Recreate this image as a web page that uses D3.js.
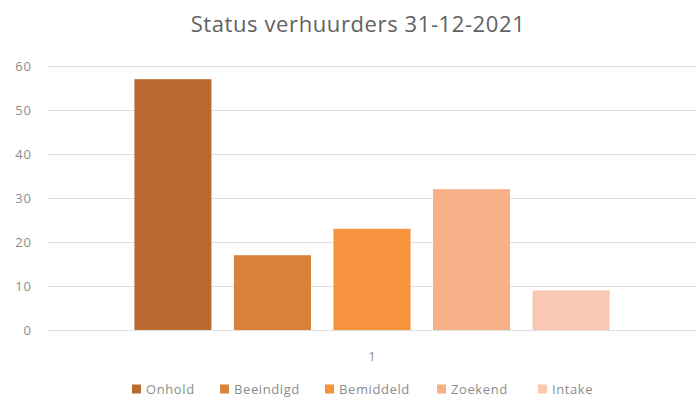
<!DOCTYPE html>
<html>
<head>
<meta charset="utf-8">
<script src="https://cdn.jsdelivr.net/npm/d3@7"></script>
<style>
  body { margin: 0; background: #fff; }
  svg { font-family: 'Open Sans', 'Noto Sans', sans-serif; }
</style>
</head>
<body>
<svg class="chart"></svg>
<script>
const categories = ['1']
const series = ['Onhold', 'Beeindigd', 'Bemiddeld', 'Zoekend', 'Intake']
const values = [57, 17, 23, 32, 9]
const colors = ['#bb6b30', '#da8239', '#f7923f', '#f8b088', '#fac8b2']
const yTicks = [0, 10, 20, 30, 40, 50, 60]

const width = 696
const height = 400
const plotLeft = 48
const plotRight = 696
const plotTop = 66
const plotBottom = 330

const chart = d3.select('.chart')
  .attr('width', width)
  .attr('height', height)

chart.append('text')
  .attr('x', 358)
  .attr('y', 32)
  .attr('text-anchor', 'middle')
  .attr('fill', '#626262')
  .style('font-size', '22px')
  .style('letter-spacing', '0.6px')
  .text('Status verhuurders 31-12-2021')

const yScale = d3.scaleLinear().domain([0, 60]).range([plotBottom, plotTop])

const x0 = d3.scaleBand()
  .domain(categories)
  .range([plotLeft, plotRight])
  .paddingInner(0)
  .paddingOuter(0.151)

const x1 = d3.scaleBand()
  .domain(series)
  .range([0, x0.bandwidth()])
  .paddingInner(0.226)
  .paddingOuter(0.113)

// gridlines + tick labels
const grid = chart.append('g')
grid.selectAll('line')
  .data(yTicks)
  .enter()
  .append('line')
  .attr('x1', plotLeft)
  .attr('x2', plotRight)
  .attr('y1', d => yScale(d) + 0.5)
  .attr('y2', d => yScale(d) + 0.5)
  .attr('stroke', '#dedede')
  .attr('stroke-width', 1)

grid.selectAll('text')
  .data(yTicks)
  .enter()
  .append('text')
  .attr('x', 32)
  .attr('y', d => yScale(d))
  .attr('dy', '0.35em')
  .attr('text-anchor', 'end')
  .attr('fill', '#8c8c8c')
  .style('font-size', '13px')
  .style('letter-spacing', '1px')
  .text(d => d)

// bars
chart.append('g')
  .selectAll('g')
  .data(categories)
  .enter()
  .append('g')
  .attr('transform', c => `translate(${x0(c)},0)`)
  .selectAll('rect')
  .data(series.map((s, i) => ({ s, v: values[i], c: colors[i] })))
  .enter()
  .append('rect')
  .attr('x', d => x1(d.s))
  .attr('y', d => yScale(d.v))
  .attr('width', x1.bandwidth())
  .attr('height', d => yScale(0) - yScale(d.v))
  .attr('fill', d => d.c)

// category label
chart.append('g')
  .selectAll('text')
  .data(categories)
  .enter()
  .append('text')
  .attr('x', c => x0(c) + x0.bandwidth() / 2)
  .attr('y', 356)
  .attr('dy', '0.35em')
  .attr('text-anchor', 'middle')
  .attr('fill', '#8c8c8c')
  .style('font-size', '13px')
  .text(c => c)

// legend
const legendX = [132, 220, 325, 437, 538]
const legend = chart.append('g')
  .selectAll('g')
  .data(series)
  .enter()
  .append('g')
  .attr('transform', (s, i) => `translate(${legendX[i]},389)`)
legend.append('rect')
  .attr('x', 0)
  .attr('y', -4.5)
  .attr('width', 9)
  .attr('height', 9)
  .attr('fill', (s, i) => colors[i])
legend.append('text')
  .attr('x', 14)
  .attr('y', 0)
  .attr('dy', '0.35em')
  .attr('fill', '#8c8c8c')
  .style('font-size', '13px')
  .style('letter-spacing', '0.6px')
  .text(s => s)
</script>
</body>
</html>
